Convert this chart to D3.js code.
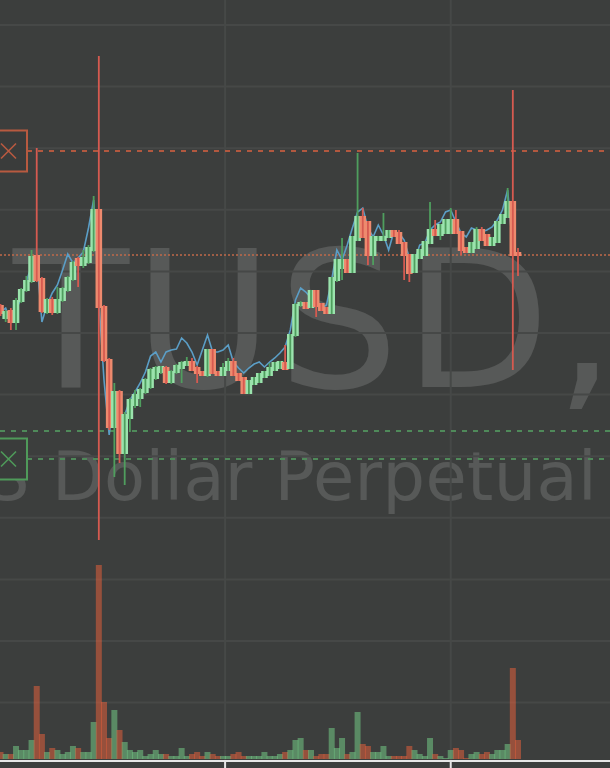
<!DOCTYPE html>
<html><head><meta charset="utf-8">
<script src="https://cdn.jsdelivr.net/npm/d3@7/dist/d3.min.js"></script>
<style>html,body{margin:0;padding:0;background:#3c3e3d;overflow:hidden}</style>
</head><body><div id="c"></div>
<script>
// ---------- DATA ----------
const symbolHead = "XB";
const symbolTail = "TUSD, 1D";
const descHead = "Bitcoin / US";
const descTail = "Dollar Perpetual";

const open = [9494,9482,9489,9478,9499,9510,9519,9544,9521,9488,
9500,9488,9500,9510,9521,9541,9535,9538,9550,9590,
9493,9440,9373,9408,9347,9382,9395,9402,9408,9413,
9422,9428,9432,9418,9428,9432,9435,9438,9432,9428,
9425,9450,9428,9425,9430,9438,9426,9422,9407,9416,
9418,9423,9425,9430,9432,9437,9432,9465,9495,9497,
9493,9509,9496,9492,9487,9520,9532,9540,9528,9560,
9583,9578,9545,9560,9560,9563,9569,9567,9557,9545,
9528,9542,9545,9557,9570,9565,9567,9567,9580,9568,
9552,9548,9552,9570,9565,9555,9558,9577,9583,9598,
9547];
const high = [9496,9490,9492,9502,9512,9524,9550,9652,9523,9502,
9503,9513,9513,9524,9539,9543,9550,9555,9604,9744,
9495,9442,9417,9410,9388,9402,9410,9412,9422,9432,
9434,9434,9434,9430,9436,9439,9443,9442,9434,9429,
9451,9451,9429,9437,9442,9442,9427,9423,9420,9423,
9427,9429,9437,9438,9439,9455,9466,9497,9499,9498,
9510,9510,9497,9493,9523,9541,9562,9541,9564,9647,
9592,9579,9564,9564,9587,9570,9570,9570,9558,9546,
9546,9551,9559,9598,9580,9576,9581,9592,9590,9569,
9553,9558,9573,9573,9566,9563,9579,9586,9612,9710,
9552];
const low = [9484,9478,9470,9470,9497,9508,9517,9518,9487,9486,
9485,9486,9498,9508,9519,9513,9532,9536,9548,9260,
9438,9370,9323,9337,9315,9368,9392,9393,9406,9411,
9420,9426,9416,9416,9426,9417,9434,9429,9417,9424,
9423,9426,9424,9424,9429,9424,9419,9406,9406,9415,
9417,9422,9424,9429,9431,9430,9431,9463,9493,9491,
9492,9483,9489,9486,9486,9518,9520,9527,9527,9559,
9562,9535,9535,9559,9559,9562,9563,9556,9520,9518,
9527,9541,9544,9556,9564,9560,9566,9566,9566,9545,
9547,9547,9551,9559,9554,9554,9557,9576,9582,9430,
9524];
const close = [9487,9488,9478,9499,9510,9519,9543,9520,9489,9500,
9488,9500,9511,9522,9537,9535,9542,9552,9590,9493,
9440,9373,9408,9347,9385,9400,9405,9410,9420,9430,
9432,9433,9418,9428,9434,9437,9438,9430,9427,9425,
9450,9427,9425,9432,9438,9425,9420,9407,9419,9422,
9426,9428,9432,9437,9438,9431,9465,9495,9497,9492,
9509,9494,9490,9487,9522,9540,9540,9528,9563,9583,
9563,9545,9563,9563,9563,9569,9564,9557,9545,9527,
9545,9550,9558,9570,9565,9575,9580,9580,9567,9550,
9548,9557,9570,9560,9555,9562,9578,9585,9598,9545,
9545];
const volume = [70,50,50,130,90,90,190,730,250,70,
110,90,50,70,130,110,70,70,370,1940,
570,210,490,290,170,90,70,90,30,50,
90,50,50,30,30,110,30,50,70,30,
70,50,30,30,30,50,70,30,30,30,
30,70,30,30,50,70,90,190,210,90,
90,30,50,50,310,110,210,50,70,470,
150,130,70,70,130,30,30,30,30,130,
90,50,30,210,50,30,10,90,110,90,
10,50,70,50,70,50,90,90,150,910,
190];
const blueLine = [9488,9492,9478,9490,9502,9518,9535,9542,9478,9495,
9507,9515,9530,9546,9537,9542,9548,9572,9600,9500,
9420,9365,9407,9378,9385,9400,9408,9417,9428,9444,
9448,9438,9448,9450,9451,9462,9457,9448,9435,9450,
9465,9448,9448,9450,9455,9438,9432,9427,9432,9436,
9438,9433,9438,9442,9447,9453,9470,9500,9512,9508,
9502,9495,9492,9495,9520,9550,9540,9555,9572,9588,
9592,9572,9563,9575,9565,9550,9568,9567,9560,9542,
9538,9555,9557,9570,9575,9578,9588,9590,9578,9567,
9563,9572,9570,9568,9570,9573,9580,9590,9610,9550,
9545];
const sellOrder = [9649];
const buyOrders = [9369, 9341];
const timeTicks = [43.4, 87];

// ---------- LAYOUT ----------
const W = 610, H = 768;
const gridTop = 25, gridStep = 61.6, gridCount = 12;
const svg = d3.select('#c').append('svg').attr('width', W).attr('height', H);
svg.append('rect').attr('width', W).attr('height', H).attr('fill', '#3c3e3d');

const n = close.length;
const x = d3.scaleLinear().domain([0, n - 1]).range([0.5, 518]);
const y = d3.scaleLinear().domain([9032, 9800]).range([H, 0]);
const v = d3.scaleLinear().domain([0, 2000]).range([759, 559]);

// watermark
const wm = svg.append('g').attr('fill', 'rgba(255,255,255,0.14)').attr('font-family', 'DejaVu Sans');
wm.append('text').attr('x', 13).attr('y', 387).attr('font-size', 190).attr('letter-spacing', 5).text(symbolTail);
wm.append('text').attr('x', 8).attr('y', 387).attr('font-size', 190).attr('letter-spacing', 5).attr('text-anchor', 'end').text(symbolHead);
wm.append('text').attr('x', 52).attr('y', 500).attr('font-size', 67).attr('letter-spacing', 0.4).text(descTail);
wm.append('text').attr('x', 30).attr('y', 500).attr('font-size', 67).attr('letter-spacing', 0.4).attr('text-anchor', 'end').text(descHead);

// grid
const grid = svg.append('g').attr('stroke', '#464847').attr('stroke-width', 2);
d3.range(gridCount).forEach(k => {
  const gy = gridTop + gridStep * k;
  grid.append('line').attr('x1', 0).attr('x2', W).attr('y1', gy).attr('y2', gy);
});
timeTicks.forEach(t => {
  grid.append('line').attr('x1', x(t)).attr('x2', x(t)).attr('y1', 0).attr('y2', 760);
});

// volume
const up = i => close[i] >= open[i];
svg.append('g').selectAll('rect').data(volume).join('rect')
  .attr('x', (d, i) => x(i) - 3).attr('width', 6)
  .attr('y', d => v(d)).attr('height', d => v(0) - v(d))
  .attr('fill', (d, i) => up(i) ? 'rgba(120,214,139,0.5)' : 'rgba(240,98,59,0.5)');

// order lines
sellOrder.forEach(p => {
  svg.append('line').attr('x1', 27).attr('x2', W).attr('y1', y(p)).attr('y2', y(p))
    .attr('stroke', '#b2583f').attr('stroke-width', 2).attr('stroke-dasharray', '5,6');
});
buyOrders.forEach((p, k) => {
  svg.append('line').attr('x1', k === 0 ? 0 : 27).attr('x2', W).attr('y1', y(p)).attr('y2', y(p))
    .attr('stroke', '#4f8a5a').attr('stroke-width', 2).attr('stroke-dasharray', '5,6');
});
// current price
const last = close[n - 1];
svg.append('line').attr('x1', 0).attr('x2', W).attr('y1', y(last)).attr('y2', y(last))
  .attr('stroke', '#c0694a').attr('stroke-width', 1.5).attr('stroke-dasharray', '2,2');

// blue line
svg.append('path').datum(blueLine)
  .attr('d', d3.line().x((d, i) => x(i)).y(d => y(d)))
  .attr('fill', 'none').attr('stroke', '#5b9ec6').attr('stroke-width', 1.6);

// candles
const cg = svg.append('g');
const bw = 6.6;
d3.range(n).forEach(i => {
  const u = up(i);
  const top = y(Math.max(open[i], close[i])), bot = y(Math.min(open[i], close[i]));
  cg.append('rect').attr('x', x(i) - bw / 2).attr('width', bw)
    .attr('y', top - 1).attr('height', Math.max(3, bot - top + 2))
    .attr('fill', u ? '#9be3ad' : '#ee8a6e');
  cg.append('line').attr('x1', x(i)).attr('x2', x(i)).attr('y1', y(high[i])).attr('y2', y(low[i]))
    .attr('stroke', u ? '#4f9e5e' : '#d65a50').attr('stroke-width', 1.8);
});

// order boxes
function box(p, col) {
  const cy = y(p);
  svg.append('rect').attr('x', -3).attr('y', cy - 20.5).attr('width', 30).attr('height', 41)
    .attr('fill', '#3a3c3b').attr('stroke', col).attr('stroke-width', 2);
  svg.append('path').attr('d', `M1,${cy - 7.5}L16,${cy + 7.5}M1,${cy + 7.5}L16,${cy - 7.5}`)
    .attr('stroke', col).attr('stroke-width', 1.6).attr('fill', 'none');
}
box(sellOrder[0], '#b85a40');
box(buyOrders[1], '#4f9a5a');

// bottom axis
svg.append('rect').attr('x', 0).attr('y', 760).attr('width', W).attr('height', 2).attr('fill', '#e6e6e6');
timeTicks.forEach(t => {
  svg.append('rect').attr('x', x(t) - 1).attr('y', 760).attr('width', 2).attr('height', 8).attr('fill', '#e6e6e6');
});
</script></body></html>
